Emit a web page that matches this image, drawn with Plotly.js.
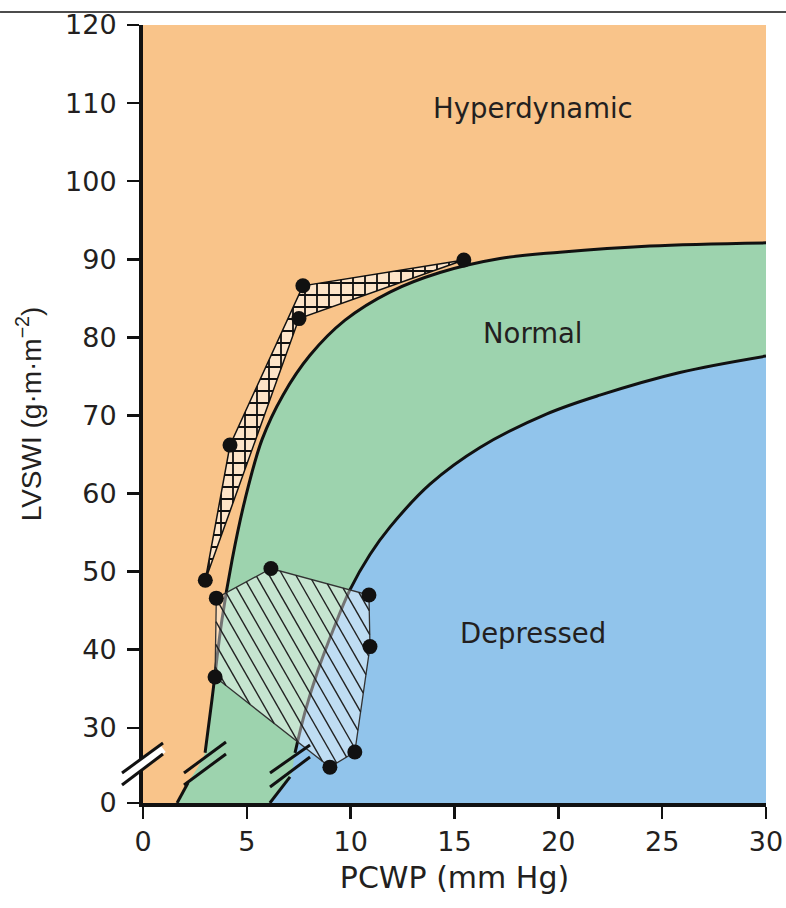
<!DOCTYPE html>
<html>
<head>
<meta charset="utf-8">
<script src="https://cdn.plot.ly/plotly-3.0.1.min.js"></script>
<style>html,body{margin:0;padding:0;background:#fff;}#chart{width:786px;height:908px;}</style>
</head>
<body>
<div id="chart"></div>
<script>
// ---------- data (PCWP in mm Hg, LVSWI in g·m·m⁻²) ----------
const xTicks = [0, 5, 10, 15, 20, 25, 30];
const yTicks = [0, 30, 40, 50, 60, 70, 80, 90, 100, 110, 120];
const yTickText = ['0', '30', '40', '50', '60', '70', '80', '90', '100', '110', '120'];

// upper boundary of the Normal zone (Hyperdynamic / Normal)
const normalTopX = [1.64, 2.17, 2.99, 3.32, 3.80, 4.29, 4.91, 5.73, 6.74, 8.04, 9.73, 11.89, 14.30, 17.19, 20.07, 24.41, 30];
const normalTopY = [0, 14, 26.8, 33.6, 43.8, 51.5, 59.2, 66.9, 72.6, 77.7, 82.2, 85.8, 88.3, 90.1, 90.9, 91.7, 92.1];

// lower boundary of the Normal zone (Normal / Depressed)
const normalBottomX = [6.11, 7.08, 7.32, 7.80, 8.43, 9.15, 9.97, 10.93, 11.89, 13.82, 16.23, 19.45, 22.0, 25.85, 30];
const normalBottomY = [0, 18.1, 26.8, 32.0, 37.4, 42.5, 47.7, 52.2, 55.7, 61.2, 65.9, 70.2, 72.6, 75.5, 77.6];

// cross-hatched group (polygon vertices = measured points)
const gridX = [3.0, 4.19, 7.70, 15.45, 7.51];
const gridY = [48.9, 66.2, 86.6, 89.9, 82.4];

// diagonal-hatched group
const diagX = [3.53, 6.16, 10.88, 10.93, 10.2, 9.0, 3.47];
const diagY = [46.6, 50.4, 47.0, 40.4, 26.9, 24.8, 36.5];

const zoneLabels = ['Hyperdynamic', 'Normal', 'Depressed'];
const zoneLabelX = [18.8, 18.8, 18.8];
const zoneLabelY = [109.4, 80.6, 42.2];

// ---------- broken y scale: 0 … break … 30–120 ----------
const BREAK = 25;          // values at or above are drawn on the linear scale
const AXIS_FLOOR = 20.37;  // position of the "0" at the bottom of the broken axis
const X_RANGE = [0, 30], Y_RANGE = [AXIS_FLOOR, 120];
function toDisplay(v) { return v >= BREAK ? v : AXIS_FLOOR + v * (BREAK - AXIS_FLOOR) / BREAK; }
const D = arr => arr.map(toDisplay);
const close = arr => arr.concat([arr[0]]);

// split boundary into part below and above the break (gap between them)
function splitAtBreak(xs, ys) {
  const lo = {x: [], y: []}, hi = {x: [], y: []};
  xs.forEach((x, i) => { const t = ys[i] < BREAK ? lo : hi; t.x.push(x); t.y.push(toDisplay(ys[i])); });
  return {x: lo.x.concat([null], hi.x), y: lo.y.concat([null], hi.y)};
}

const W = 786, H = 908, M = {l: 143, r: 20, t: 25, b: 105};
const PW = W - M.l - M.r, PH = H - M.t - M.b;

// steep single hatching clipped to a polygon (screen-space angle like the original)
function hatch(xs, ys, slope, gap) {
  const toP = (x, y) => [(x - X_RANGE[0]) / (X_RANGE[1] - X_RANGE[0]) * PW, (Y_RANGE[1] - y) / (Y_RANGE[1] - Y_RANGE[0]) * PH];
  const fromP = (px, py) => [X_RANGE[0] + px / PW * (X_RANGE[1] - X_RANGE[0]), Y_RANGE[1] - py / PH * (Y_RANGE[1] - Y_RANGE[0])];
  const pts = xs.map((x, i) => toP(x, toDisplay(ys[i])));
  const key = p => p[0] - p[1] / slope;
  const ks = pts.map(key);
  const kmin = Math.min(...ks), kmax = Math.max(...ks);
  const hx = [], hy = [];
  for (let c = kmin + gap * 0.45; c < kmax; c += gap) {
    const hits = [];
    for (let i = 0; i < pts.length; i++) {
      const a = pts[i], b = pts[(i + 1) % pts.length];
      const fa = key(a) - c, fb = key(b) - c;
      if ((fa <= 0 && fb > 0) || (fa > 0 && fb <= 0)) {
        const t = fa / (fa - fb);
        hits.push([a[0] + t * (b[0] - a[0]), a[1] + t * (b[1] - a[1])]);
      }
    }
    hits.sort((p, q) => p[1] - q[1]);
    for (let j = 0; j + 1 < hits.length; j += 2) {
      const p = fromP(...hits[j]), q = fromP(...hits[j + 1]);
      hx.push(p[0], q[0], null); hy.push(p[1], q[1], null);
    }
  }
  return {x: hx, y: hy};
}

const ORANGE = '#f9c48a', GREEN = '#9dd3ae', BLUE = '#91c4eb', INK = '#231f20';
const FONT = 'DejaVu Sans, Liberation Sans, Arial, sans-serif';
const FONT_V = 'Liberation Sans, Arial, Helvetica, sans-serif';
const SM = 1.0;

const topLine = splitAtBreak(normalTopX, normalTopY);
const botLine = splitAtBreak(normalBottomX, normalBottomY);
const diagHatch = hatch(diagX, diagY, 1.75, 13.3);

const traces = [
  {x: normalTopX, y: D(normalTopY), mode: 'lines', line: {width: 0, shape: 'spline', smoothing: SM},
   fill: 'tozeroy', fillcolor: GREEN, hoverinfo: 'skip'},
  {x: normalBottomX, y: D(normalBottomY), mode: 'lines', line: {width: 0, shape: 'spline', smoothing: SM},
   fill: 'tozeroy', fillcolor: BLUE, hoverinfo: 'skip'},
  {x: topLine.x, y: topLine.y, mode: 'lines', connectgaps: false,
   line: {color: '#111', width: 3, shape: 'spline', smoothing: SM}},
  {x: botLine.x, y: botLine.y, mode: 'lines', connectgaps: false,
   line: {color: '#111', width: 3, shape: 'spline', smoothing: SM}},
  {x: close(gridX), y: D(close(gridY)), mode: 'lines', fill: 'toself',
   fillcolor: '#fde4c8', line: {color: '#111', width: 1.5},
   fillpattern: {shape: '+', fgcolor: '#111', bgcolor: '#fde4c8', size: 12, solidity: 0.28}},
  {x: close(diagX), y: D(close(diagY)), mode: 'lines', fill: 'toself',
   fillcolor: 'rgba(255,255,255,0.42)', line: {color: '#333', width: 1.3}},
  {x: diagHatch.x, y: diagHatch.y, mode: 'lines', connectgaps: false,
   line: {color: '#222', width: 1.4}},
  {x: gridX.concat(diagX), y: D(gridY.concat(diagY)), mode: 'markers',
   marker: {color: '#111', size: 15}}
];

// break markers (pairs of slashes), pixel-matched in paper units
function slashPair(x0, x1, yA0, yA1, yB0, yB1, band) {
  const s = [];
  if (band) s.push({type: 'line', xref: 'paper', yref: 'paper', x0: x0, x1: x1,
    y0: (yA0 + yB0) / 2, y1: (yA1 + yB1) / 2, line: {color: '#fff', width: 9}, layer: 'above'});
  s.push({type: 'line', xref: 'paper', yref: 'paper', x0: x0, x1: x1, y0: yA0, y1: yA1, line: {color: '#111', width: 3}, layer: 'above'});
  s.push({type: 'line', xref: 'paper', yref: 'paper', x0: x0, x1: x1, y0: yB0, y1: yB1, line: {color: '#111', width: 3}, layer: 'above'});
  return s;
}
const shapes = [].concat(
  slashPair(-0.0337, 0.0321, 0.0386, 0.0771, 0.0231, 0.0630, true),
  slashPair(0.0658, 0.1332, 0.0386, 0.0784, 0.0231, 0.0630, false),
  slashPair(0.2039, 0.2681, 0.0386, 0.0746, 0.0206, 0.0591, false),
  [{type: 'line', xref: 'paper', yref: 'paper', x0: -0.2295, x1: 1.0321, y0: 1.0167, y1: 1.0167,
    line: {color: '#111', width: 1.5}, layer: 'above'}]
);

const annotations = zoneLabels.map((t, i) => ({
  x: zoneLabelX[i], y: zoneLabelY[i], xref: 'x', yref: 'y', text: t, showarrow: false,
  font: {family: FONT, size: 27.5, color: INK}
}));

const layout = {
  width: W, height: H,
  margin: M,
  paper_bgcolor: '#fff', plot_bgcolor: ORANGE,
  showlegend: false,
  font: {family: FONT, color: INK},
  xaxis: {
    range: X_RANGE, tickvals: xTicks, ticktext: xTicks.map(String),
    showgrid: false, zeroline: false, showline: true, linecolor: '#111', linewidth: 4,
    ticks: 'outside', ticklen: 12, tickwidth: 2.5, tickcolor: '#111', ticklabelstandoff: 0,
    tickfont: {family: FONT, size: 27, color: INK},
    title: {text: 'PCWP (mm Hg)', font: {family: FONT, size: 30, color: INK}, standoff: 12}
  },
  yaxis: {
    range: Y_RANGE, tickvals: D(yTicks), ticktext: yTickText,
    showgrid: false, zeroline: false, showline: true, linecolor: '#111', linewidth: 4,
    ticks: 'outside', ticklen: 12, tickwidth: 2.5, tickcolor: '#111', ticklabelstandoff: 5,
    tickfont: {family: FONT, size: 27, color: INK},
    title: {text: 'LVSWI (g·m·m<sup>−2</sup>)', font: {family: FONT_V, size: 28, color: INK}, standoff: 16}
  },
  shapes: shapes,
  annotations: annotations
};

Plotly.newPlot('chart', traces, layout, {staticPlot: true, displayModeBar: false});
</script>
</body>
</html>
